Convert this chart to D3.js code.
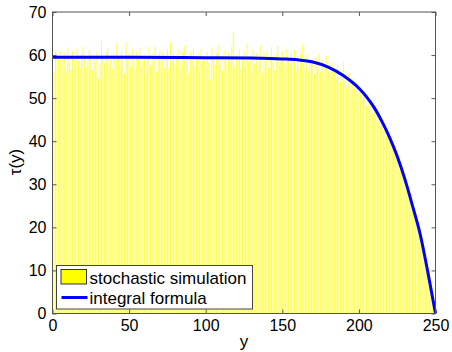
<!DOCTYPE html>
<html>
<head>
<meta charset="utf-8">
<script src="https://cdn.jsdelivr.net/npm/d3@7"></script>
<style>
  body { margin: 0; background: #fff; }
  text { font-family: "Liberation Sans", Arial, sans-serif; fill: #000; }
  .eje line { stroke: #555; }
  .eje text { font-size: 16px; }
</style>
</head>
<body>
<div id="graf"></div>
<script>
// I. Datos
// simulacion estocastica: una barra por cada y = 1..250
simY = d3.range(1, 251)
simValores = [
  56.1, 61.2, 60.4, 58.9, 61.0, 57.3, 59.8, 60.6, 55.9, 61.8,
  58.2, 56.5, 60.9, 59.1, 57.8, 61.5, 58.7, 56.9, 60.2, 62.0,
  59.4, 57.1, 58.8, 61.3, 60.1, 56.4, 59.7, 58.3, 60.8, 54.6,
  57.9, 63.3, 59.2, 58.1, 60.7, 61.6, 57.6, 59.0, 56.8, 60.3,
  58.5, 62.8, 59.9, 57.4, 61.1, 58.9, 55.8, 62.8, 59.6, 60.5,
  57.2, 61.4, 58.0, 56.7, 60.9, 59.3, 61.7, 57.5, 58.6, 60.0,
  55.4, 59.8, 61.9, 57.7, 60.4, 58.4, 62.1, 56.2, 59.5, 61.0,
  58.1, 60.6, 57.0, 59.2, 61.5, 56.9, 63.1, 58.7, 60.2, 57.8,
  59.9, 61.2, 56.6, 58.3, 60.7, 62.2, 57.3, 59.4, 55.7, 60.8,
  58.9, 61.6, 57.5, 59.1, 60.3, 56.0, 61.4, 58.6, 59.7, 57.1,
  60.9, 58.2, 54.2, 61.8, 59.3, 57.7, 60.5, 62.4, 58.0, 59.6,
  56.3, 61.1, 59.0, 57.9, 60.6, 58.4, 62.0, 65.2, 57.2, 60.1,
  58.8, 61.5, 56.7, 59.5, 60.8, 57.4, 62.6, 58.5, 59.9, 56.1,
  61.3, 58.0, 60.4, 57.6, 59.2, 62.3, 55.9, 60.7, 58.6, 61.0,
  57.0, 59.7, 61.9, 58.3, 56.5, 60.2, 62.1, 57.8, 59.4, 60.9,
  58.1, 56.8, 61.4, 59.0, 57.5, 60.6, 58.7, 61.2, 56.2, 59.8,
  57.3, 60.3, 62.5, 58.2, 57.0, 60.1, 56.4, 59.1, 57.9, 58.8,
  55.6, 59.5, 57.2, 60.4, 56.1, 58.9, 54.8, 57.6, 59.9, 56.3,
  58.4, 55.2, 58.1, 56.7, 54.5, 57.9, 55.1, 53.8, 56.5, 58.5,
  54.2, 52.7, 55.8, 53.4, 51.9, 54.6, 52.2, 50.9, 53.3, 51.5,
  52.0, 49.6, 51.2, 50.3, 48.2, 50.8, 47.1, 49.4, 46.5, 48.0,
  46.9, 44.8, 46.2, 43.5, 45.1, 42.4, 43.9, 41.2, 42.3, 39.8,
  40.1, 38.7, 39.3, 36.4, 37.5, 34.6, 35.2, 32.8, 33.4, 30.7,
  30.1, 28.2, 28.5, 26.0, 25.8, 23.1, 22.9, 20.4, 19.6, 17.8,
  16.0, 14.9, 12.6, 11.3, 9.2, 7.5, 5.6, 3.9, 2.1, 0.4
]

// formula integral: puntos leidos sobre la curva azul
curvaY = [0, 50, 100, 130, 150, 160, 170, 180, 190, 200, 205, 210, 215, 220, 225, 230, 235, 240, 245, 250]
curvaValores = [59.5, 59.5, 59.4, 59.3, 59.1, 58.9, 58.4, 57.2, 55.2, 52.3, 50.3, 47.8, 44.6, 40.9, 36.5, 31.2, 25.0, 18.4, 9.6, 0]

xTicks = [0, 50, 100, 150, 200, 250]
yTicks = [0, 10, 20, 30, 40, 50, 60, 70]
leyenda = ['stochastic simulation', 'integral formula']

// II. Configuracion
ancho_total = 452
alto_total = 352
margins = { top: 12, left: 52.5, right: 16.5, bottom: 38.5 }
ancho = ancho_total - margins.left - margins.right
alto = alto_total - margins.top - margins.bottom

svg = d3.select('#graf').append('svg')
        .attr('width', ancho_total)
        .attr('height', alto_total)

g = svg.append('g')
       .attr('transform', `translate(${margins.left}, ${margins.top})`)

x = d3.scaleLinear().domain([0, 250]).range([0, ancho])
y = d3.scaleLinear().domain([0, 70]).range([alto, 0])

// recorte para que las barras no salgan del cuadro
g.append('clipPath').attr('id', 'recorte')
  .append('rect').attr('width', ancho).attr('height', alto)

// III. Barras (amarillo palido: las barras finas dejan ver el blanco)
anchoBarra = x(0.7) - x(0)
g.append('g')
  .attr('clip-path', 'url(#recorte)')
  .selectAll('rect')
  .data(simY)
  .enter()
  .append('rect')
    .attr('x', (d, i) => x(d) - anchoBarra / 2)
    .attr('y', (d, i) => y(simValores[i]))
    .attr('width', anchoBarra)
    .attr('height', (d, i) => alto - y(simValores[i]))
    .style('fill', '#ffff50')

// IV. Curva
linea = d3.line()
          .x(d => x(d[0]))
          .y(d => y(d[1]))
          .curve(d3.curveMonotoneX)

g.append('path')
  .datum(curvaY.map((d, i) => [d, curvaValores[i]]))
  .attr('d', linea)
  .style('fill', 'none')
  .style('stroke', '#0000ff')
  .style('stroke-width', 3)

// V. Ejes (ticks hacia adentro, estilo matlab)
xAxisGroup = g.append('g').attr('class', 'eje')
              .attr('transform', `translate(0, ${alto})`)
              .call(d3.axisBottom(x).tickValues(xTicks).tickSizeInner(-4).tickSizeOuter(0).tickPadding(6))
yAxisGroup = g.append('g').attr('class', 'eje')
              .call(d3.axisLeft(y).tickValues(yTicks).tickSizeInner(-4).tickSizeOuter(0).tickPadding(6))
g.append('g').attr('class', 'eje')
  .call(d3.axisTop(x).tickValues(xTicks).tickSizeInner(-4).tickSizeOuter(0).tickFormat(''))
g.append('g').attr('class', 'eje')
  .attr('transform', `translate(${ancho}, 0)`)
  .call(d3.axisRight(y).tickValues(yTicks).tickSizeInner(-4).tickSizeOuter(0).tickFormat(''))
g.selectAll('.eje .domain').remove()

g.append('rect')
  .attr('width', ancho)
  .attr('height', alto)
  .style('fill', 'none')
  .style('stroke', '#555')
  .style('stroke-width', 1)

// titulos de los ejes
svg.append('text')
   .attr('x', 244)
   .attr('y', 347)
   .attr('text-anchor', 'middle')
   .style('font-size', '17px')
   .text('y')
svg.append('text')
   .attr('transform', 'translate(21, 162) rotate(-90)')
   .attr('text-anchor', 'middle')
   .style('font-size', '17px')
   .text('τ(y)')

// VI. Leyenda
ley = svg.append('g').attr('transform', 'translate(56.5, 265.5)')
ley.append('rect')
   .attr('width', 196)
   .attr('height', 43.5)
   .style('fill', '#fff')
   .style('stroke', '#444')
ley.append('rect')
   .attr('x', 4.5)
   .attr('y', 4)
   .attr('width', 25.5)
   .attr('height', 14.5)
   .style('fill', '#ffff00')
   .style('stroke', '#333')
ley.append('line')
   .attr('x1', 5).attr('x2', 31)
   .attr('y1', 32).attr('y2', 32)
   .style('stroke', '#0000ff')
   .style('stroke-width', 3)
ley.selectAll('text.item')
   .data(leyenda)
   .enter()
   .append('text')
     .attr('class', 'item')
     .attr('x', 33)
     .attr('y', (d, i) => 18.5 + i * 20)
     .style('font-size', '17px')
     .text(d => d)
</script>
</body>
</html>
